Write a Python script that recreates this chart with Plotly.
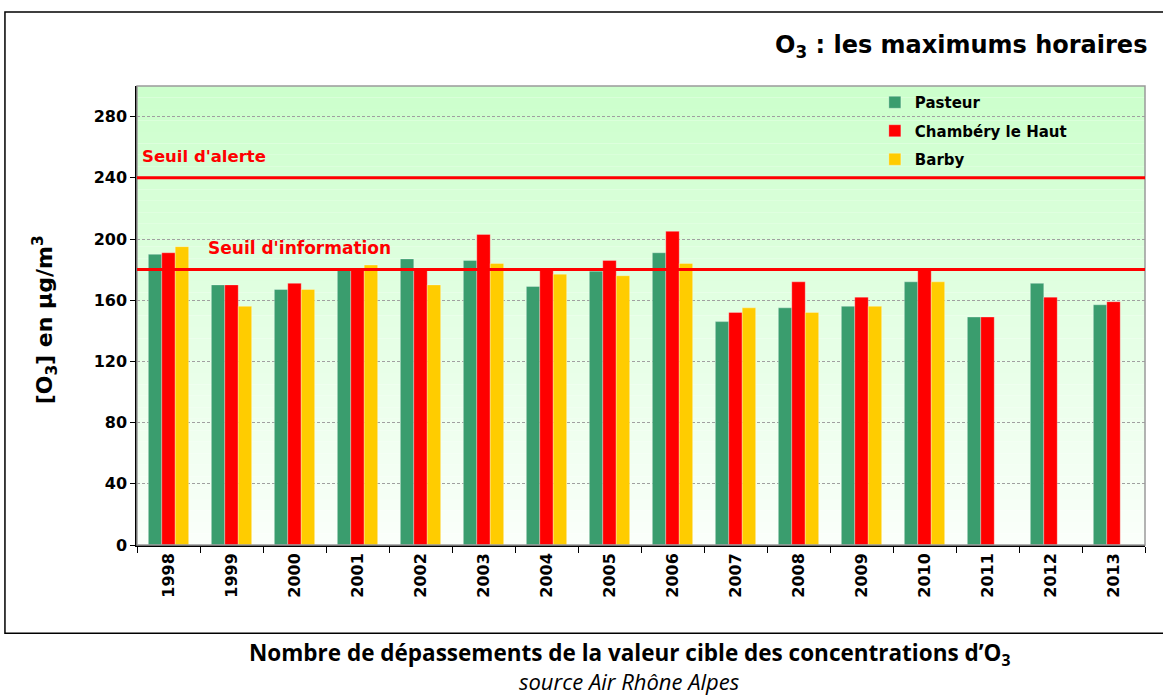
import plotly.graph_objects as go

years = [str(y) for y in range(1998, 2014)]
pasteur = [190, 170, 167, 180, 187, 186, 169, 179, 191, 146, 155, 156, 172, 149, 171, 157]
chambery = [191, 170, 171, 180, 181, 203, 181, 186, 205, 152, 172, 162, 180, 149, 162, 159]
barby = [195, 156, 167, 183, 170, 184, 177, 176, 184, 155, 152, 156, 172, None, None, None]
series_names = ["Pasteur", "Chambéry le Haut", "Barby"]
series_colors = ["#3A9D6E", "#FF0000", "#FFCC00"]
thresholds = [240, 180]
threshold_labels = ["Seuil d'alerte", "Seuil d'information"]
y_ticks = [0, 40, 80, 120, 160, 200, 240, 280]

FONT = "DejaVu Sans"
CAP = "Open Sans"

fig = go.Figure()
for name, vals, col in zip(series_names, [pasteur, chambery, barby], series_colors):
    fig.add_trace(go.Bar(
        x=years, y=vals, name=name, legendgroup=name,
        marker=dict(color=col, line=dict(width=0.6, color="rgba(255,255,255,0.5)")),
    ))

shapes = []
# gradient background
n = 40
top = (204, 255, 204)
bot = (250, 255, 250)
for i in range(n):
    t = i / (n - 1)
    c = tuple(round(top[k] + (bot[k] - top[k]) * t) for k in range(3))
    shapes.append(dict(type="rect", xref="x domain", yref="y domain",
                       x0=0, x1=1, y0=1 - (i + 1) / n, y1=1 - i / n,
                       fillcolor="rgb(%d,%d,%d)" % c, line=dict(width=0), layer="below"))
# plot area border (grey)
shapes.append(dict(type="rect", xref="x domain", yref="y domain", x0=0, x1=1, y0=0, y1=1,
                   line=dict(color="#9A9A9A", width=1.5), layer="above"))
# threshold lines
for th in thresholds:
    shapes.append(dict(type="line", xref="x domain", yref="y", x0=0, x1=1, y0=th, y1=th,
                       line=dict(color="#FF0000", width=3), layer="above"))
# outer frame
shapes.append(dict(type="rect", xref="paper", yref="paper", x0=-0.131, x1=1.06, y0=-0.192, y1=1.161,
                   line=dict(color="black", width=1.5), layer="below"))

annotations = [
    dict(text="O<sub>3</sub> : les maximums horaires", xref="paper", yref="paper",
         x=1.004, y=1.087, xanchor="right", yanchor="middle", showarrow=False,
         font=dict(family=FONT, size=24, color="black", weight="bold")),
    dict(text=threshold_labels[0], xref="paper", yref="y", x=0.003, y=thresholds[0],
         xanchor="left", yanchor="bottom", yshift=10, showarrow=False,
         font=dict(family=FONT, size=16.5, color="#FF0000", weight="bold")),
    dict(text=threshold_labels[1], xref="paper", yref="y", x=0.068, y=thresholds[1],
         xanchor="left", yanchor="bottom", yshift=10, showarrow=False,
         font=dict(family=FONT, size=17, color="#FF0000", weight="bold")),
    dict(text="[O<sub>3</sub>] en µg/m<sup>3</sup>", xref="paper", yref="paper",
         x=-0.091, y=0.49, xanchor="center", yanchor="middle", textangle=-90, showarrow=False,
         font=dict(family=FONT, size=22, color="black", weight="bold")),
    dict(text="Nombre de dépassements de la valeur cible des concentrations d’O<sub>3</sub>",
         xref="paper", yref="paper", x=0.489, y=-0.238, xanchor="center", yanchor="middle",
         showarrow=False, font=dict(family=CAP, size=22.5, color="black", weight="bold")),
    dict(text="<i>source Air Rhône Alpes</i>", xref="paper", yref="paper", x=0.489, y=-0.297,
         xanchor="center", yanchor="middle", showarrow=False,
         font=dict(family=CAP, size=22, color="black")),
]

fig.update_layout(
    width=1163, height=697,
    margin=dict(l=137, r=18, t=86, b=152),
    paper_bgcolor="white", plot_bgcolor="rgba(0,0,0,0)",
    barmode="group", bargap=0.36, bargroupgap=0,
    shapes=shapes, annotations=annotations,
    showlegend=True,
    legend=dict(x=0.732, y=1.0, xanchor="left", yanchor="top", bgcolor="rgba(0,0,0,0)",
                font=dict(family=FONT, size=15, color="black", weight="bold"),
                tracegroupgap=6, itemwidth=30),
    xaxis=dict(type="category", tickangle=-90, showline=True, linecolor="black", linewidth=1.5,
               ticks="outside", tickson="boundaries", ticklen=6, tickcolor="black",
               tickfont=dict(family=FONT, size=16, color="black", weight="bold"),
               showgrid=False),
    yaxis=dict(range=[0, 300], tickvals=y_ticks, showline=True, linecolor="black", linewidth=1.5,
               ticks="outside", ticklen=5, tickcolor="black",
               tickfont=dict(family=FONT, size=16, color="black", weight="bold"),
               showgrid=True, gridcolor="#A0A0A0", griddash="3px,2px", gridwidth=1,
               zeroline=False),
)

fig.write_html("out.html", config={"displayModeBar": False},
               post_script="document.body.style.margin='0';")
